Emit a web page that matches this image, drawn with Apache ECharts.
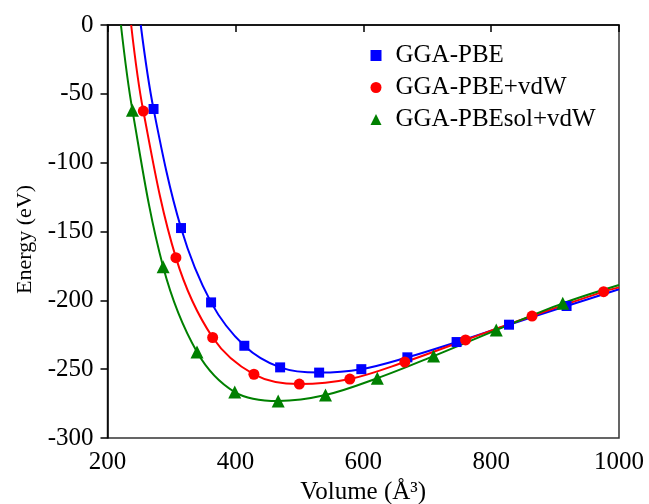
<!DOCTYPE html>
<html>
<head>
<meta charset="utf-8">
<script src="https://cdn.jsdelivr.net/npm/echarts@6/dist/echarts.min.js"></script>
<style>html,body{margin:0;padding:0;background:#fff}#c{width:649px;height:504px}</style>
</head>
<body>
<div id="c"></div>
<script>
// Data
var seriesNames = ['GGA-PBE', 'GGA-PBE+vdW', 'GGA-PBEsol+vdW'];
var volPBE = [272, 315, 362, 414, 470, 531, 597, 669, 746, 828, 918];
var ePBE   = [-61, -147.5, -201.5, -233, -248.7, -252.5, -250, -241.4, -230.3, -217.7, -204.1];
var volVdw = [256, 307, 364.5, 429, 500, 579, 665, 760, 864, 976];
var eVdw   = [-62.5, -169, -227, -253.7, -260.8, -257.2, -244.8, -228.8, -211.4, -193.7];
var volSol = [239, 287, 340, 399, 467, 541, 622, 710, 808, 912];
var eSol   = [-62, -175.6, -237.5, -266.6, -273.1, -268.8, -256.6, -240.5, -221.6, -202.2];
// fitted-curve ends: [volume, energy] where the curve leaves the frame
var curveStartPBE = [252, 0], curveEndPBE = [1000, -192];
var curveStartVdw = [237, 0], curveEndVdw = [1000, -190.6];
var curveStartSol = [221, 0], curveEndSol = [1000, -188.9];
var xTicks = [200, 400, 600, 800, 1000];
var yTicks = [-300, -250, -200, -150, -100, -50, 0];

function pts(v, e) { return v.map(function (x, i) { return [x, e[i]]; }); }
function curve(s, v, e, end) { return [s].concat(pts(v, e)).concat([end]); }

var FONT = 'Liberation Serif';
var colors = ['#0000FF', '#FF0000', '#008000'];
var symbols = ['rect', 'circle', 'triangle'];
var symSizes = [10, 11, 13];
var sets = [
  [volPBE, ePBE, curveStartPBE, curveEndPBE],
  [volVdw, eVdw, curveStartVdw, curveEndVdw],
  [volSol, eSol, curveStartSol, curveEndSol]
];

var series = [];
sets.forEach(function (s, i) {
  series.push({
    name: seriesNames[i] + ' fit', type: 'line', data: curve(s[2], s[0], s[1], s[3]),
    smooth: 0.35, showSymbol: false, symbol: 'none',
    lineStyle: { color: colors[i], width: 2 }, z: 2, silent: true
  });
});
sets.forEach(function (s, i) {
  series.push({
    name: seriesNames[i], type: 'scatter', data: pts(s[0], s[1]),
    symbol: symbols[i], symbolSize: symSizes[i],
    itemStyle: { color: colors[i], opacity: 1 }, z: 3
  });
});

var chart = echarts.init(document.getElementById('c'), null, { renderer: 'canvas' });
chart.setOption({
  animation: false,
  backgroundColor: '#fff',
  grid: { left: 107.5, right: 30, top: 25, bottom: 66, containLabel: false, outerBoundsMode: 'none',
          show: true, borderColor: '#333', borderWidth: 1.5, backgroundColor: 'transparent' },
  legend: {
    data: seriesNames.map(function (n, i) { return { name: n, icon: symbols[i] }; }),
    orient: 'vertical', left: 365.5, top: 38, itemWidth: 11, itemHeight: 11, itemGap: 7,
    textStyle: { fontFamily: FONT, fontSize: 25, color: '#000', padding: [0, 0, 0, 9] }
  },
  xAxis: {
    type: 'value', min: xTicks[0], max: xTicks[xTicks.length - 1], interval: 200,
    name: 'Volume (Å³)', nameLocation: 'middle', nameGap: 40,
    nameTextStyle: { fontFamily: FONT, fontSize: 25, color: '#000' },
    axisLine: { show: true, lineStyle: { color: '#000', width: 1.5 } },
    axisTick: { show: true, length: 7, lineStyle: { color: '#000', width: 1.5 } },
    axisLabel: { fontFamily: FONT, fontSize: 25, color: '#000', margin: 12, formatter: function (v) { return String(v); } },
    splitLine: { show: false }
  },
  yAxis: {
    type: 'value', min: yTicks[0], max: yTicks[yTicks.length - 1], interval: 50,
    name: 'Energy (eV)', nameLocation: 'middle', nameGap: 71, nameRotate: 90,
    nameTextStyle: { fontFamily: FONT, fontSize: 22, color: '#000', padding: [0, 16, 0, 0] },
    axisLine: { show: true, lineStyle: { color: '#000', width: 1.5 } },
    axisTick: { show: true, length: 7, lineStyle: { color: '#000', width: 1.5 } },
    axisLabel: { fontFamily: FONT, fontSize: 25, color: '#000', margin: 14, formatter: function (v) { return String(v); } },
    splitLine: { show: false }
  },
  series: series
});
</script>
</body>
</html>
